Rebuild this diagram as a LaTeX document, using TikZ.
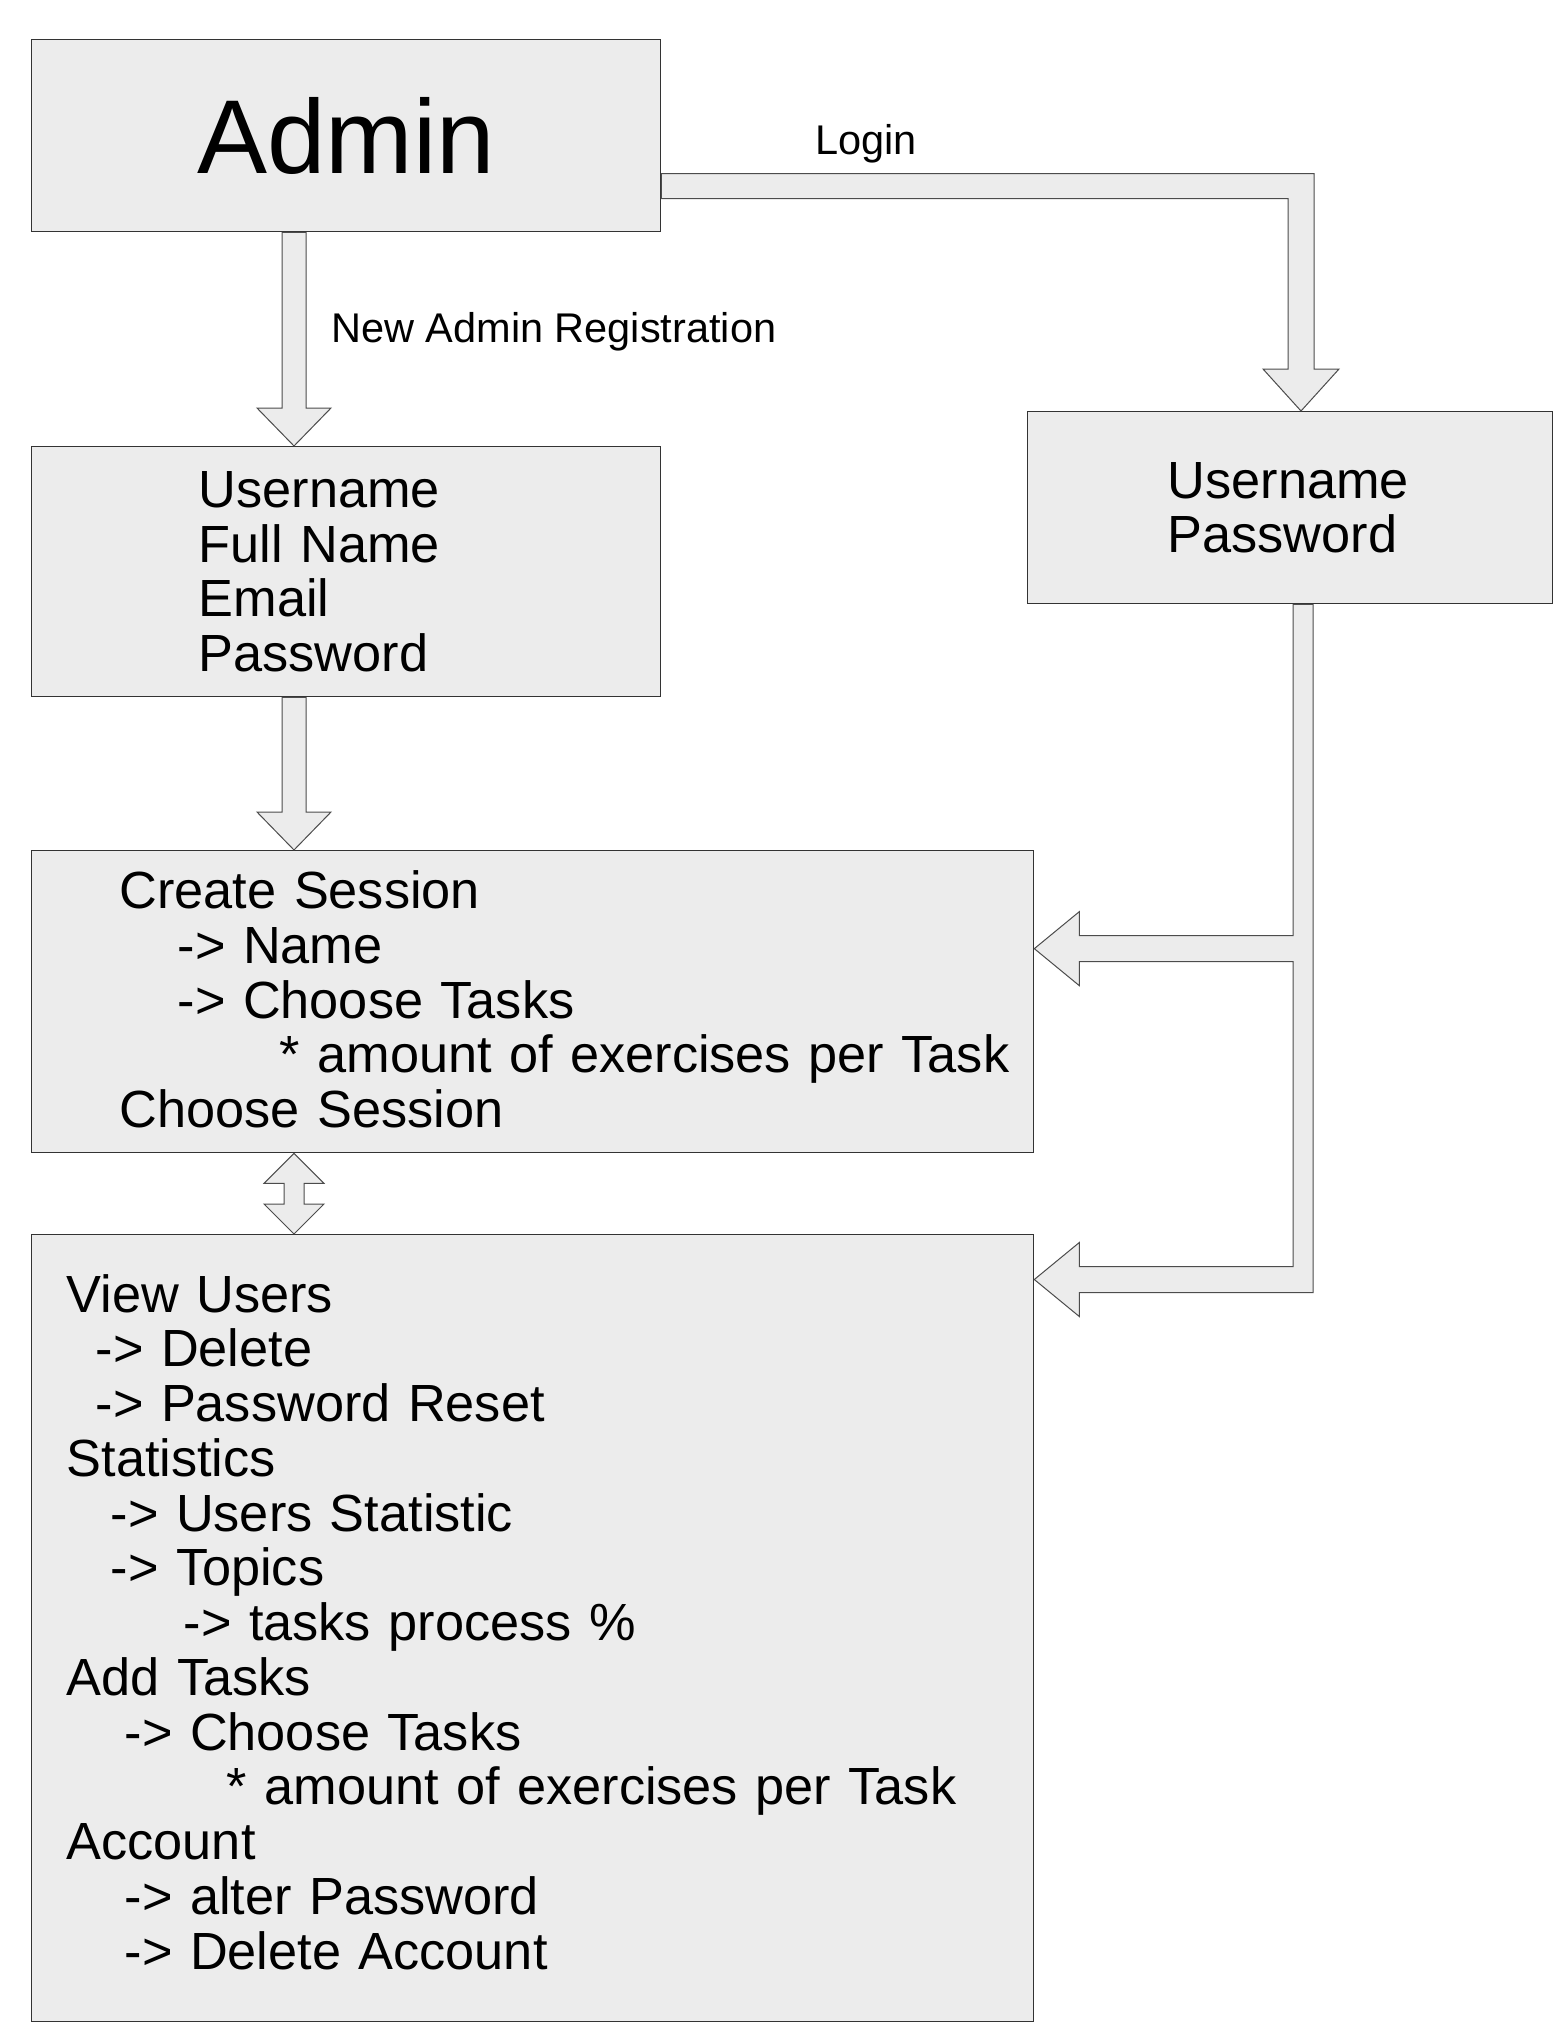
\documentclass[tikz,border=0pt]{standalone}
\usepackage{fontspec}
\setmainfont{Liberation Sans}
\usetikzlibrary{calc}

\begin{document}
\begin{tikzpicture}[
        x=1pt, y=-1pt,
        box/.style={draw=black!80, fill=gray!15, line width=1.3pt, rectangle,
            anchor=north west, inner xsep=0pt, inner ysep=0pt},
        lines/.style={align=left, text width=#1,
            font=\fontsize{52.3}{54.75}\selectfont},
        lpad/.style={execute at begin node={\leftskip=#1}},
        fat/.style={draw=black!70, fill=gray!15, line width=1pt, line join=miter},
        lbl/.style={inner sep=0pt, anchor=west, font=\fontsize{41.5}{44}\selectfont},
    ]
    \useasboundingbox (0,0) rectangle (1561,2044);

    % boxes
    \node[box, minimum width=629pt, minimum height=192pt,
        font=\fontsize{105}{110}\selectfont] (admin) at (31,39) {Admin};
    \node[box, lines=629pt, lpad=167pt, minimum height=250pt] (reg) at (31,446)
        {Username\\Full Name\\Email\\Password\par};
    \node[box, lines=525pt, lpad=140pt, minimum height=192pt] (login) at (1027,411)
        {Username\\Password\par};
    \node[box, lines=1002pt, lpad=88pt, minimum height=302pt] (session) at (31,850)
        {Create Session\\
        \hspace*{58pt}-> Name\\
        \hspace*{58pt}-> Choose Tasks\\
        \hspace*{160pt}* amount of exercises per Task\\
        Choose Session\rule[-5pt]{0pt}{5pt}\par};
    \node[box, lines=1002pt, lpad=35pt, minimum height=787pt] (panel) at (31,1234)
        {View Users\\
        \hspace*{29pt}-> Delete\\
        \hspace*{29pt}-> Password Reset\\
        Statistics\\
        \hspace*{44pt}-> Users Statistic\\
        \hspace*{44pt}-> Topics\\
        \hspace*{117pt}-> tasks process \%\\
        Add Tasks\\
        \hspace*{58pt}-> Choose Tasks\\
        \hspace*{160pt}* amount of exercises per Task\\
        Account\\
        \hspace*{58pt}-> alter Password\\
        \hspace*{58pt}-> Delete Account\rule[-13pt]{0pt}{13pt}\par};

    % arrow columns and tips
    \coordinate (lc) at ($(admin.south west)+(263,0)$);
    \coordinate (rc) at ($(login.north west)+(274,0)$);
    \coordinate (tc) at ($(login.south west)+(276,0)$);
    \coordinate (t1) at ($(session.east)+(0,-53)$);
    \coordinate (t2) at ($(panel.north east)+(0,45.5)$);

    % new admin registration
    \draw[fat] ($(lc |- admin.south)+(-12,0)$) -- ($(lc |- reg.north)+(-12,-38)$) -- ++(-25,0)
        -- (lc |- reg.north) -- ++(37,-38) -- ++(-25,0) -- ($(lc |- admin.south)+(12,0)$) -- cycle;
    \node[lbl] (reglbl) at ($(lc |- admin.south)+(37,99)$) {New Admin Registration};

    % registration to session
    \draw[fat] ($(lc |- reg.south)+(-12,0)$) -- ($(lc |- session.north)+(-12,-38)$) -- ++(-25,0)
        -- (lc |- session.north) -- ++(37,-38) -- ++(-25,0) -- ($(lc |- reg.south)+(12,0)$) -- cycle;

    % session <-> panel
    \draw[fat] (lc |- session.south) -- ++(30,30) -- ++(-20,0) -- ($(lc |- panel.north)+(10,-30)$)
        -- ++(20,0) -- (lc |- panel.north) -- ++(-30,-30) -- ++(20,0)
        -- ($(lc |- session.south)+(-10,30)$) -- ++(-20,0) -- cycle;

    % login
    \draw[fat] ($(admin.east)+(0,38)$) -- ($(rc |- admin.east)+(13,38)$) -- ($(rc |- login.north)+(13,-42)$)
        -- ++(25,0) -- (rc |- login.north) -- ++(-38,-42) -- ++(25,0)
        -- ($(rc |- admin.east)+(-13,63)$) -- ($(admin.east)+(0,63)$) -- cycle;
    \node[lbl] (loginlbl) at ($(admin.east)+(154,8)$) {Login};

    % login to session and panel
    \draw[fat] ($(tc |- login.south)+(-10,0)$) -- ($(tc |- t1)+(-10,-13)$) -- ($(t1)+(45,-13)$)
        -- ++(0,-24) -- (t1) -- ++(45,37) -- ++(0,-24) -- ($(tc |- t1)+(-10,13)$)
        -- ($(tc |- t2)+(-10,-13)$) -- ($(t2)+(45,-13)$) -- ++(0,-24) -- (t2) -- ++(45,37)
        -- ++(0,-24) -- ($(tc |- t2)+(10,13)$) -- ($(tc |- login.south)+(10,0)$) -- cycle;
\end{tikzpicture}
\end{document}
